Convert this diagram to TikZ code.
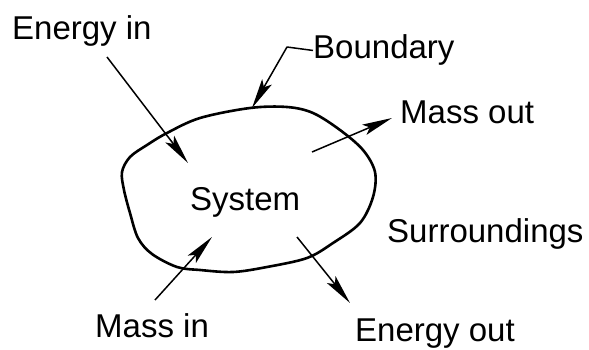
\documentclass[tikz,border=0pt]{standalone}
\usepackage{fontspec}
\setmainfont{Liberation Sans}
\usetikzlibrary{arrows.meta}

\begin{document}
\begin{tikzpicture}[x=1pt, y=-1pt,
        lbl/.style={font=\fontsize{33}{36}\selectfont, inner sep=0pt, anchor=base west},
        flow/.style={line width=1.5pt, line join=round, -{Stealth[length=30pt, width=11pt, inset=6pt]}},
        wall/.style={line width=2.6pt, line join=round}]
    \useasboundingbox (0,0) rectangle (589,350);

    % the boundary round the system
    \draw[wall] plot[smooth cycle, tension=0.55] coordinates {
        (130,157) (147,145) (167,133) (200,118) (250,108) (287,107)
        (313,113) (340,130) (363,150) (375,172) (373,197) (360,223)
        (333,243) (307,258) (267,267) (233,272) (200,270) (177,267)
        (152,254) (138,238) (130,213) (124,190) (122,172)};

    % labels
    \node[lbl] (ein)  at (12,40)   {Energy in};
    \node[lbl] (bnd)  at (313,59)  {Boundary};
    \node[lbl] (mout) at (400,124) {Mass out};
    \node[lbl] (sys)  at (190,210) {System};
    \node[lbl] (surr) at (387,242) {Surroundings};
    \node[lbl] (min)  at (95,337)  {Mass in};
    \node[lbl] (eout) at (355,341) {Energy out};

    % ends of the flows
    \coordinate (einA)  at (107,57);  \coordinate (einB)  at (188,163);
    \coordinate (bndK)  at (287,47);  \coordinate (bndW)  at (252,108);
    \coordinate (moutA) at (312,152); \coordinate (moutB) at (392,118);
    \coordinate (minA)  at (155,300); \coordinate (minB)  at (212,237);
    \coordinate (eoutA) at (297,237); \coordinate (eoutB) at (350,303);

    % flows across the boundary
    \draw[flow] (einA) -- (einB);
    \draw[flow] (bnd.west) -- (bndK) -- (bndW);
    \draw[flow] (moutA) -- (moutB);
    \draw[flow] (minA) -- (minB);
    \draw[flow] (eoutA) -- (eoutB);
\end{tikzpicture}
\end{document}
